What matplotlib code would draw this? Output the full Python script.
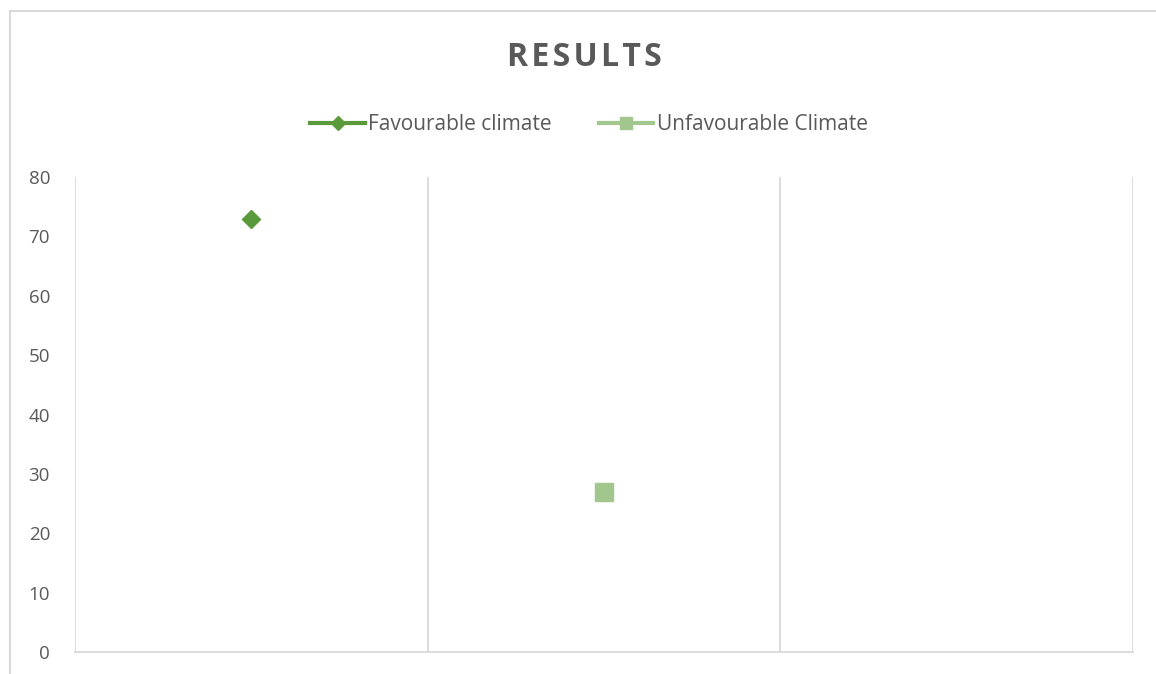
import matplotlib.pyplot as plt
from matplotlib.lines import Line2D
from matplotlib.patches import Rectangle

plt.rcParams['font.family'] = ['Open Sans', 'DejaVu Sans']

# data
categories = [1, 2, 3]
favourable = [73, None, None]
unfavourable = [None, 27, None]
yticks = [0, 10, 20, 30, 40, 50, 60, 70, 80]

fav_col = '#5B9A3A'
unfav_col = '#A1C78E'
text_col = '#595959'
grid_col = '#D9D9D9'

fig = plt.figure(figsize=(11.56, 6.74), dpi=100)
ax = fig.add_axes([75/1156, 22/674, 1058/1156, 475/674])

fx = [c for c, v in zip(categories, favourable) if v is not None]
fy = [v for v in favourable if v is not None]
ux = [c for c, v in zip(categories, unfavourable) if v is not None]
uy = [v for v in unfavourable if v is not None]
ax.plot(fx, fy, linestyle='none', marker='D', markersize=9.5, color=fav_col)
ax.plot(ux, uy, linestyle='none', marker='s', markersize=12.5, color=unfav_col)

ax.set_xlim(0.5, len(categories) + 0.5)
ax.set_ylim(0, 80)
ax.set_yticks(yticks)
ax.set_xticks([c - 0.5 for c in categories] + [len(categories) + 0.5])
ax.set_xticklabels([])
ax.tick_params(axis='both', length=0)
ax.tick_params(axis='y', labelsize=13.5, labelcolor=text_col, pad=18)
ax.grid(axis='x', color=grid_col, linewidth=1.3)
for s in ['left', 'right', 'top']:
    ax.spines[s].set_visible(False)
ax.spines['bottom'].set_color(grid_col)
ax.spines['bottom'].set_linewidth(1.3)

# spaced-out title like the original
title = '\u200a'.join('RESULTS')
fig.text(584/1156, 1 - 57/674, title, ha='center', va='center',
         fontsize=23, fontweight='bold', color=text_col)

handles = [
    Line2D([], [], color=fav_col, linewidth=3, marker='D', markersize=7),
    Line2D([], [], color=unfav_col, linewidth=3, marker='s', markersize=9),
]
fig.legend(handles, ['Favourable climate', 'Unfavourable Climate'],
           loc='center', bbox_to_anchor=(589/1156, 1 - 125/674), ncol=2,
           frameon=False, fontsize=15, labelcolor=text_col,
           handlelength=2.6, handletextpad=0.15, columnspacing=2.3)

fig.patches.append(Rectangle((10/1156, -0.1), 1.2, 1 - 11/674 + 0.1,
                             transform=fig.transFigure, fill=False,
                             edgecolor=grid_col, linewidth=1.5))

fig.savefig('out.png', dpi=100)
